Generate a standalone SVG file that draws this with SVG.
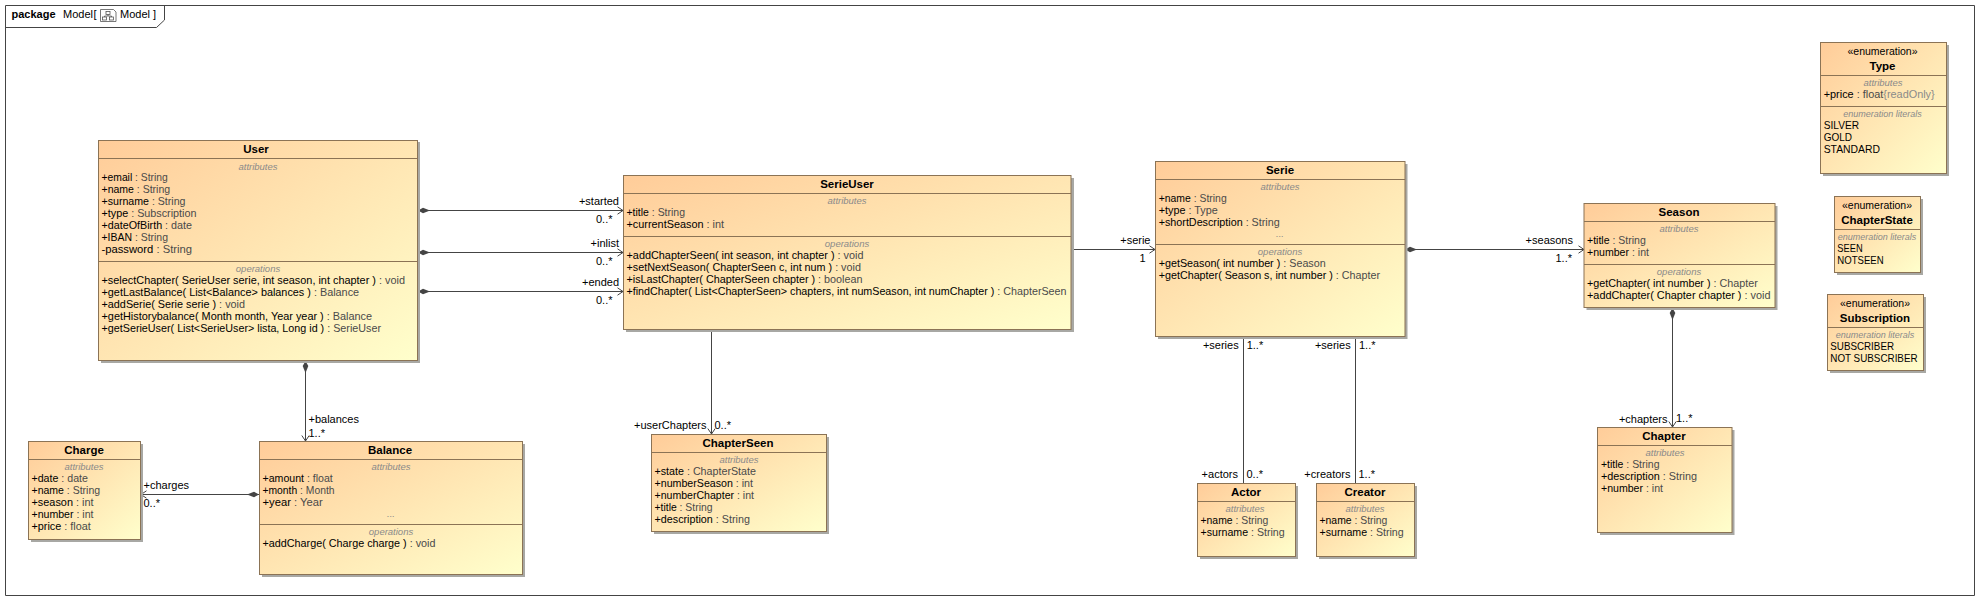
<svg xmlns="http://www.w3.org/2000/svg" width="1979" height="600" viewBox="0 0 1979 600">
<defs>
<linearGradient id="g" x1="0" y1="0" x2="1" y2="1"><stop offset="0" stop-color="#ffcc99"/><stop offset="1" stop-color="#ffffcc"/></linearGradient>
<marker id="dia" markerUnits="userSpaceOnUse" markerWidth="14" markerHeight="8" refX="0" refY="4" orient="auto"><path d="M0 4L5 1.2L12 4L5 6.8Z" fill="#444"/></marker>
<marker id="arr" markerUnits="userSpaceOnUse" markerWidth="8" markerHeight="10" refX="6.5" refY="5" orient="auto"><path d="M1 1.3L6.5 5L1 8.7" fill="none" stroke="#444" stroke-width="1"/></marker>
</defs>
<style>
text{font-family:"Liberation Sans",Arial,sans-serif;font-size:11px;fill:#000}
.b{fill:url(#g);stroke:#8b7355;stroke-width:1}
.s{fill:#a8a8a4}
.l{stroke:#8b7355;stroke-width:1;fill:none}
.t{font-weight:bold;text-anchor:middle;font-size:11.5px}
.c{font-size:9.5px;font-style:italic;fill:#8a8a8a;text-anchor:middle}
.n{font-size:9px}
.m{text-anchor:middle;font-size:10.5px}
.y{fill:#4a4a4a}
.r{text-anchor:end}
.e{stroke:#444;stroke-width:1;fill:none}
.a{marker-end:url(#arr)}
.d{marker-start:url(#dia)}
</style>
<g id="frame">
<path d="M5.5 5.5H1974.5V595.5H5.5Z" fill="#fff" stroke="#444"/>
<path d="M5.5 27.5H156.5L164.5 20V5.5" fill="none" stroke="#444"/>
<text x="11.5" y="18" style="font-weight:bold">package</text>
<text x="63" y="18">Model</text><text x="93.5" y="18">[</text>
<g fill="none" stroke="#555" stroke-width="0.8"><path d="M100.5 9.5H113.5L116 12V21.5H100.5Z"/><rect x="106" y="11.5" width="4" height="3"/><rect x="102.5" y="17" width="4" height="3"/><rect x="109.5" y="17" width="4" height="3"/><path d="M108 14.5V16H104.5V17M108 16H111.5V17"/></g>
<text x="120" y="18">Model ]</text>
</g>
<g id="connectors">
<path class="e a d" d="M418 210.5H623"/>
<path class="e a d" d="M418 252.5H623"/>
<path class="e a d" d="M418 291.5H623"/>
<path class="e a d" d="M305.5 361V441"/>
<path class="e a d" d="M259 494.5H141"/>
<path class="e a" d="M1071 249.5H1155"/>
<path class="e a" d="M711.5 329V434"/>
<path class="e" d="M1243.5 336V483"/>
<path class="e" d="M1355.5 336V483"/>
<path class="e a d" d="M1405 249.5H1584"/>
<path class="e a d" d="M1672.5 308V427"/>
<text class="r" x="619" y="205">+started</text><text class="r" x="612.5" y="223">0..*</text>
<text class="r" x="619" y="247">+inlist</text><text class="r" x="612.5" y="265">0..*</text>
<text class="r" x="619" y="286">+ended</text><text class="r" x="612.5" y="304">0..*</text>
<text x="308.5" y="423">+balances</text><text x="308.5" y="436.5">1..*</text>
<text x="143.5" y="489">+charges</text><text x="143.5" y="507">0..*</text>
<text class="r" x="1150.5" y="244">+serie</text><text class="r" x="1145.5" y="262">1</text>
<text class="r" x="1238.7" y="349">+series</text><text x="1246.7" y="349">1..*</text>
<text class="r" x="1350.7" y="349">+series</text><text x="1359" y="349">1..*</text>
<text class="r" x="706.5" y="429">+userChapters</text><text x="714.5" y="429">0..*</text>
<text class="r" x="1238" y="478">+actors</text><text x="1246.5" y="478">0..*</text>
<text class="r" x="1350.5" y="478">+creators</text><text x="1358.5" y="478">1..*</text>
<text class="r" x="1573" y="244">+seasons</text><text class="r" x="1572" y="262">1..*</text>
<text class="r" x="1667.5" y="423">+chapters</text><text x="1676" y="422">1..*</text>
</g>
<g id="User">
<rect class="s" x="101" y="142" width="319" height="221"/><rect class="b" x="98.5" y="140.5" width="319" height="220"/>
<path class="l" d="M98.5 158.5H417.5M98.5 261.5H417.5"/>
<text class="t" x="256" y="153">User</text>
<text class="c" x="258" y="170">attributes</text>
<text x="101.5" y="181" textLength="66.3" lengthAdjust="spacingAndGlyphs">+email<tspan class="y"> : String</tspan></text>
<text x="101.5" y="193" textLength="68.6" lengthAdjust="spacingAndGlyphs">+name<tspan class="y"> : String</tspan></text>
<text x="101.5" y="205" textLength="84" lengthAdjust="spacingAndGlyphs">+surname<tspan class="y"> : String</tspan></text>
<text x="101.5" y="217" textLength="95" lengthAdjust="spacingAndGlyphs">+type<tspan class="y"> : Subscription</tspan></text>
<text x="101.5" y="229" textLength="90.5" lengthAdjust="spacingAndGlyphs">+dateOfBirth<tspan class="y"> : date</tspan></text>
<text x="101.5" y="241" textLength="66.5" lengthAdjust="spacingAndGlyphs">+IBAN<tspan class="y"> : String</tspan></text>
<text x="101.5" y="253" textLength="90.5" lengthAdjust="spacingAndGlyphs">-password<tspan class="y"> : String</tspan></text>
<text class="c" x="258" y="272">operations</text>
<text x="101.5" y="284" textLength="303.5" lengthAdjust="spacingAndGlyphs">+selectChapter( SerieUser serie, int season, int chapter )<tspan class="y"> : void</tspan></text>
<text x="101.5" y="296" textLength="257.6" lengthAdjust="spacingAndGlyphs">+getLastBalance( List&lt;Balance&gt; balances )<tspan class="y"> : Balance</tspan></text>
<text x="101.5" y="308" textLength="143.5" lengthAdjust="spacingAndGlyphs">+addSerie( Serie serie )<tspan class="y"> : void</tspan></text>
<text x="101.5" y="320" textLength="270.6" lengthAdjust="spacingAndGlyphs">+getHistorybalance( Month month, Year year )<tspan class="y"> : Balance</tspan></text>
<text x="101.5" y="332" textLength="279.5" lengthAdjust="spacingAndGlyphs">+getSerieUser( List&lt;SerieUser&gt; lista, Long id )<tspan class="y"> : SerieUser</tspan></text>
</g>
<g id="SerieUser">
<rect class="s" x="626" y="178" width="448" height="154"/><rect class="b" x="623.5" y="175.5" width="447.5" height="154"/>
<path class="l" d="M623.5 193.5H1071M623.5 236.5H1071"/>
<text class="t" x="847" y="188">SerieUser</text>
<text class="c" x="847" y="204">attributes</text>
<text x="626.5" y="216" textLength="58.5" lengthAdjust="spacingAndGlyphs">+title<tspan class="y"> : String</tspan></text>
<text x="626.5" y="228" textLength="97.6" lengthAdjust="spacingAndGlyphs">+currentSeason<tspan class="y"> : int</tspan></text>
<text class="c" x="847" y="247">operations</text>
<text x="626.5" y="259" textLength="237" lengthAdjust="spacingAndGlyphs">+addChapterSeen( int season, int chapter )<tspan class="y"> : void</tspan></text>
<text x="626.5" y="271" textLength="234.4" lengthAdjust="spacingAndGlyphs">+setNextSeason( ChapterSeen c, int num )<tspan class="y"> : void</tspan></text>
<text x="626.5" y="283" textLength="236" lengthAdjust="spacingAndGlyphs">+isLastChapter( ChapterSeen chapter )<tspan class="y"> : boolean</tspan></text>
<text x="626.5" y="295" textLength="440" lengthAdjust="spacingAndGlyphs">+findChapter( List&lt;ChapterSeen&gt; chapters, int numSeason, int numChapter )<tspan class="y"> : ChapterSeen</tspan></text>
</g>
<g id="Serie">
<rect class="s" x="1158" y="164" width="249.5" height="175"/><rect class="b" x="1155.5" y="161.5" width="249.5" height="175"/>
<path class="l" d="M1155.5 179.5H1405M1155.5 244.5H1405"/>
<text class="t" x="1280" y="174">Serie</text>
<text class="c" x="1280" y="190">attributes</text>
<text x="1158.7" y="202" textLength="68" lengthAdjust="spacingAndGlyphs">+name<tspan class="y"> : String</tspan></text>
<text x="1158.7" y="214" textLength="59" lengthAdjust="spacingAndGlyphs">+type<tspan class="y"> : Type</tspan></text>
<text x="1158.7" y="226" textLength="121" lengthAdjust="spacingAndGlyphs">+shortDescription<tspan class="y"> : String</tspan></text>
<text class="c" x="1280" y="237">...</text>
<text class="c" x="1280" y="255">operations</text>
<text x="1158.7" y="267" textLength="167" lengthAdjust="spacingAndGlyphs">+getSeason( int number )<tspan class="y"> : Season</tspan></text>
<text x="1158.7" y="279" textLength="221.3" lengthAdjust="spacingAndGlyphs">+getChapter( Season s, int number )<tspan class="y"> : Chapter</tspan></text>
</g>
<g id="Season">
<rect class="s" x="1586.5" y="206" width="191" height="104"/><rect class="b" x="1584" y="203.5" width="191" height="104"/>
<path class="l" d="M1584 221.5H1775M1584 264.5H1775"/>
<text class="t" x="1679" y="216">Season</text>
<text class="c" x="1679" y="232">attributes</text>
<text x="1587" y="244" textLength="58.8" lengthAdjust="spacingAndGlyphs">+title<tspan class="y"> : String</tspan></text>
<text x="1587" y="256" textLength="62" lengthAdjust="spacingAndGlyphs">+number<tspan class="y"> : int</tspan></text>
<text class="c" x="1679" y="275">operations</text>
<text x="1587" y="287" textLength="170.8" lengthAdjust="spacingAndGlyphs">+getChapter( int number )<tspan class="y"> : Chapter</tspan></text>
<text x="1587" y="299" textLength="183.5" lengthAdjust="spacingAndGlyphs">+addChapter( Chapter chapter )<tspan class="y"> : void</tspan></text>
</g>
<g id="Chapter">
<rect class="s" x="1600" y="430" width="134.5" height="105"/><rect class="b" x="1597.5" y="427.5" width="134.5" height="105"/>
<path class="l" d="M1597.5 445.5H1732"/>
<text class="t" x="1664" y="440">Chapter</text>
<text class="c" x="1665" y="456">attributes</text>
<text x="1601" y="468" textLength="58.5" lengthAdjust="spacingAndGlyphs">+title<tspan class="y"> : String</tspan></text>
<text x="1601" y="480" textLength="96" lengthAdjust="spacingAndGlyphs">+description<tspan class="y"> : String</tspan></text>
<text x="1601" y="492" textLength="62" lengthAdjust="spacingAndGlyphs">+number<tspan class="y"> : int</tspan></text>
</g>
<g id="Balance">
<rect class="s" x="262" y="444" width="263" height="133"/><rect class="b" x="259.5" y="441.5" width="263" height="133"/>
<path class="l" d="M259.5 459.5H522.5M259.5 524.5H522.5"/>
<text class="t" x="390" y="454">Balance</text>
<text class="c" x="391" y="470">attributes</text>
<text x="262.5" y="482" textLength="70.3" lengthAdjust="spacingAndGlyphs">+amount<tspan class="y"> : float</tspan></text>
<text x="262.5" y="494" textLength="72" lengthAdjust="spacingAndGlyphs">+month<tspan class="y"> : Month</tspan></text>
<text x="262.5" y="506" textLength="60.2" lengthAdjust="spacingAndGlyphs">+year<tspan class="y"> : Year</tspan></text>
<text class="c" x="391" y="517">...</text>
<text class="c" x="391" y="535">operations</text>
<text x="262.5" y="547" textLength="173" lengthAdjust="spacingAndGlyphs">+addCharge( Charge charge )<tspan class="y"> : void</tspan></text>
</g>
<g id="Charge">
<rect class="s" x="31" y="444" width="112" height="98"/><rect class="b" x="28.5" y="441.5" width="112" height="98"/>
<path class="l" d="M28.5 459.5H140.5"/>
<text class="t" x="84" y="454">Charge</text>
<text class="c" x="84" y="470">attributes</text>
<text x="31.5" y="482" textLength="56.4" lengthAdjust="spacingAndGlyphs">+date<tspan class="y"> : date</tspan></text>
<text x="31.5" y="494" textLength="68.6" lengthAdjust="spacingAndGlyphs">+name<tspan class="y"> : String</tspan></text>
<text x="31.5" y="506" textLength="62" lengthAdjust="spacingAndGlyphs">+season<tspan class="y"> : int</tspan></text>
<text x="31.5" y="518" textLength="62" lengthAdjust="spacingAndGlyphs">+number<tspan class="y"> : int</tspan></text>
<text x="31.5" y="530" textLength="59.3" lengthAdjust="spacingAndGlyphs">+price<tspan class="y"> : float</tspan></text>
</g>
<g id="ChapterSeen">
<rect class="s" x="654" y="437" width="175" height="97"/><rect class="b" x="651.5" y="434.5" width="175" height="97"/>
<path class="l" d="M651.5 452.5H826.5"/>
<text class="t" x="738" y="447">ChapterSeen</text>
<text class="c" x="739" y="463">attributes</text>
<text x="654.5" y="475" textLength="101.5" lengthAdjust="spacingAndGlyphs">+state<tspan class="y"> : ChapterState</tspan></text>
<text x="654.5" y="487" textLength="98.5" lengthAdjust="spacingAndGlyphs">+numberSeason<tspan class="y"> : int</tspan></text>
<text x="654.5" y="499" textLength="99.5" lengthAdjust="spacingAndGlyphs">+numberChapter<tspan class="y"> : int</tspan></text>
<text x="654.5" y="511" textLength="58" lengthAdjust="spacingAndGlyphs">+title<tspan class="y"> : String</tspan></text>
<text x="654.5" y="523" textLength="95.4" lengthAdjust="spacingAndGlyphs">+description<tspan class="y"> : String</tspan></text>
</g>
<g id="Actor">
<rect class="s" x="1200" y="486" width="98" height="73"/><rect class="b" x="1197.5" y="483.5" width="98" height="73"/>
<path class="l" d="M1197.5 501.5H1295.5"/>
<text class="t" x="1246" y="496">Actor</text>
<text class="c" x="1245" y="512">attributes</text>
<text x="1200.5" y="524" textLength="67.9" lengthAdjust="spacingAndGlyphs">+name<tspan class="y"> : String</tspan></text>
<text x="1200.5" y="536" textLength="84.2" lengthAdjust="spacingAndGlyphs">+surname<tspan class="y"> : String</tspan></text>
</g>
<g id="Creator">
<rect class="s" x="1319" y="486" width="98" height="73"/><rect class="b" x="1316.5" y="483.5" width="98" height="73"/>
<path class="l" d="M1316.5 501.5H1414.5"/>
<text class="t" x="1365" y="496">Creator</text>
<text class="c" x="1365" y="512">attributes</text>
<text x="1319.5" y="524" textLength="67.9" lengthAdjust="spacingAndGlyphs">+name<tspan class="y"> : String</tspan></text>
<text x="1319.5" y="536" textLength="84.2" lengthAdjust="spacingAndGlyphs">+surname<tspan class="y"> : String</tspan></text>
</g>
<g id="Type">
<rect class="s" x="1823" y="45" width="126" height="131"/><rect class="b" x="1820.5" y="42.5" width="126" height="131"/>
<path class="l" d="M1820.5 75.5H1946.5M1820.5 106.5H1946.5"/>
<text class="m" x="1882.5" y="55">«enumeration»</text>
<text class="t" x="1882.5" y="70">Type</text>
<text class="c" x="1883" y="86">attributes</text>
<text x="1823.7" y="98" textLength="111" lengthAdjust="spacingAndGlyphs">+price<tspan class="y"> : float</tspan><tspan fill="#8a8a8a">{readOnly}</tspan></text>
<text class="c n" x="1882.5" y="117">enumeration literals</text>
<text x="1823.7" y="129" textLength="35.3" lengthAdjust="spacingAndGlyphs">SILVER</text>
<text x="1823.7" y="141" textLength="28.3" lengthAdjust="spacingAndGlyphs">GOLD</text>
<text x="1823.7" y="153" textLength="56.3" lengthAdjust="spacingAndGlyphs">STANDARD</text>
</g>
<g id="ChapterState">
<rect class="s" x="1837" y="199" width="86" height="76"/><rect class="b" x="1834.5" y="196.5" width="86" height="76"/>
<path class="l" d="M1834.5 229.5H1920.5"/>
<text class="m" x="1877" y="209">«enumeration»</text>
<text class="t" x="1877" y="224">ChapterState</text>
<text class="c n" x="1877" y="240">enumeration literals</text>
<text x="1837.3" y="252" textLength="25.3" lengthAdjust="spacingAndGlyphs">SEEN</text>
<text x="1837.3" y="264" textLength="46.3" lengthAdjust="spacingAndGlyphs">NOTSEEN</text>
</g>
<g id="Subscription">
<rect class="s" x="1830" y="297" width="96" height="76"/><rect class="b" x="1827.5" y="294.5" width="96" height="76"/>
<path class="l" d="M1827.5 327.5H1923.5"/>
<text class="m" x="1875" y="307">«enumeration»</text>
<text class="t" x="1875" y="322">Subscription</text>
<text class="c n" x="1875" y="338">enumeration literals</text>
<text x="1830.3" y="350" textLength="63.7" lengthAdjust="spacingAndGlyphs">SUBSCRIBER</text>
<text x="1830.3" y="362" textLength="87.3" lengthAdjust="spacingAndGlyphs">NOT SUBSCRIBER</text>
</g>
</svg>
